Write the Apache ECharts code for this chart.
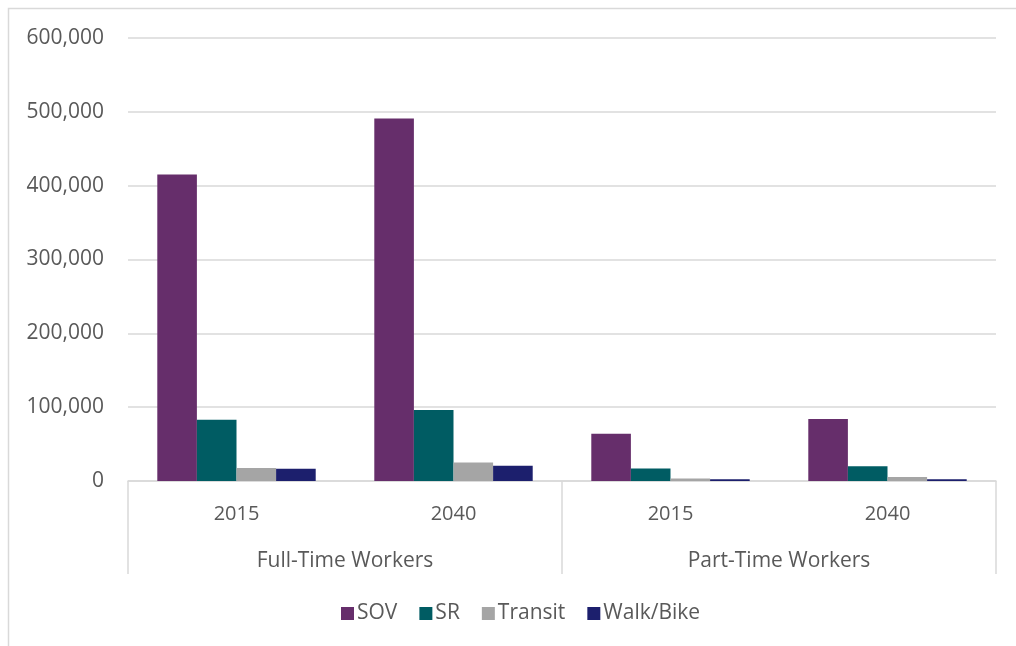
<!DOCTYPE html>
<html lang="en">
  <head>
    <meta charset="UTF-8" />
    <title>Commute mode by worker type</title>
    <script src="https://cdn.jsdelivr.net/npm/echarts@6/dist/echarts.min.js"></script>
    <style>
      html, body { margin: 0; padding: 0; background: #fff; }
      #main { width: 1016px; height: 646px; }
    </style>
  </head>
  <body>
    <div id="main"></div>
    <script>
      // data
      var years = ["2015", "2040", "2015", "2040"];
      var groups = ["Full-Time Workers", "Part-Time Workers"];
      var modes = ["SOV", "SR", "Transit", "Walk/Bike"];
      var sov = [415000, 491000, 64000, 84000];
      var sr = [83000, 96000, 17000, 20000];
      var transit = [17500, 25000, 3500, 5500];
      var walkBike = [16500, 20500, 2500, 2500];
      var yTicks = [0, 100000, 200000, 300000, 400000, 500000, 600000];

      var colors = ["#662e6b", "#005c63", "#a5a5a5", "#1c1f6d"];
      var font = "Open Sans";
      var textColor = "#595959";

      var chart = echarts.init(document.getElementById("main"));

      function bar(name, vals) {
        return {
          name: name,
          type: "bar",
          xAxisIndex: 0,
          data: vals,
          barGap: "0%",
          barCategoryGap: "27%"
        };
      }

      var option = {
        animation: false,
        color: colors,
        textStyle: { fontFamily: font },
        graphic: [
          {
            type: "rect",
            shape: { x: 8.5, y: 8.5, width: 1100, height: 700 },
            style: { fill: "none", stroke: "#d9d9d9", lineWidth: 1.5 },
            silent: true
          }
        ],
        grid: { left: 128, right: 20, top: 38, bottom: 165 },
        legend: {
          data: modes,
          left: 336,
          top: 598,
          icon: "rect",
          itemWidth: 13,
          itemHeight: 13,
          itemGap: 22,
          textStyle: { fontSize: 21, color: textColor, fontFamily: font, padding: [0, 0, 0, -2] }
        },
        xAxis: [
          {
            type: "category",
            data: years,
            position: "bottom",
            axisLine: { lineStyle: { color: "#d9d9d9", width: 1.5 } },
            axisTick: { show: false },
            axisLabel: { color: textColor, fontSize: 20, margin: 23, fontFamily: font }
          },
          {
            type: "category",
            data: groups,
            position: "bottom",
            axisLine: { show: false },
            axisTick: { show: true, length: 93, lineStyle: { color: "#d9d9d9", width: 1.5 } },
            axisLabel: { color: textColor, fontSize: 21, margin: 70, fontFamily: font }
          }
        ],
        yAxis: {
          type: "value",
          min: yTicks[0],
          max: yTicks[yTicks.length - 1],
          interval: yTicks[1] - yTicks[0],
          axisLine: { show: false },
          axisTick: { show: false },
          splitLine: { lineStyle: { color: "#d9d9d9", width: 1.5 } },
          axisLabel: {
            color: textColor,
            fontSize: 21,
            margin: 24,
            fontFamily: font,
            formatter: function (v) { return v.toLocaleString("en-US"); }
          }
        },
        series: [
          bar(modes[0], sov),
          bar(modes[1], sr),
          bar(modes[2], transit),
          bar(modes[3], walkBike)
        ]
      };
      chart.setOption(option);
    </script>
  </body>
</html>
